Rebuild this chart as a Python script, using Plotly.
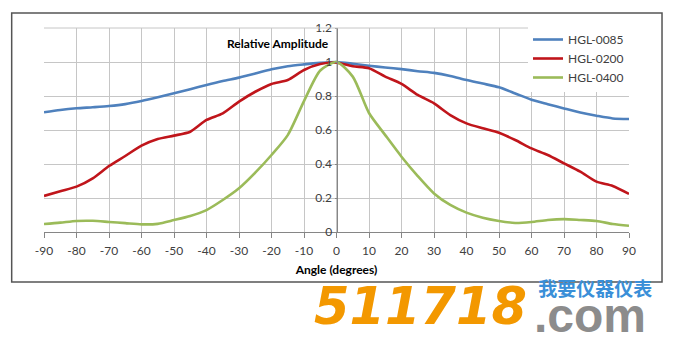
import plotly.graph_objects as go

angles = list(range(-90, 91, 5))
hgl_0085 = [0.704, 0.718, 0.728, 0.734, 0.741, 0.752, 0.770, 0.792, 0.816, 0.840, 0.865, 0.888,
            0.908, 0.932, 0.957, 0.975, 0.986, 0.995, 1.000, 0.990, 0.978, 0.968, 0.958, 0.946,
            0.936, 0.918, 0.894, 0.873, 0.851, 0.815, 0.778, 0.752, 0.727, 0.703, 0.684, 0.668, 0.665]
hgl_0200 = [0.212, 0.240, 0.267, 0.316, 0.388, 0.447, 0.508, 0.547, 0.567, 0.590, 0.659, 0.698,
            0.767, 0.825, 0.871, 0.894, 0.953, 0.988, 0.996, 0.975, 0.963, 0.914, 0.871, 0.806,
            0.757, 0.688, 0.639, 0.610, 0.584, 0.541, 0.492, 0.453, 0.404, 0.355, 0.296, 0.271, 0.224]
hgl_0400 = [0.047, 0.055, 0.065, 0.066, 0.059, 0.052, 0.045, 0.048, 0.070, 0.094, 0.129, 0.188,
            0.257, 0.349, 0.453, 0.570, 0.770, 0.950, 1.000, 0.914, 0.700, 0.570, 0.443, 0.329,
            0.227, 0.159, 0.114, 0.084, 0.065, 0.053, 0.059, 0.071, 0.076, 0.071, 0.065, 0.047, 0.037]
series_names = ["HGL-0085", "HGL-0200", "HGL-0400"]
series_colors = ["#4F81BD", "#C0151B", "#9BBB59"]
x_ticks = list(range(-90, 91, 10))
y_ticks = [0, 0.2, 0.4, 0.6, 0.8, 1, 1.2]
y_ticklabels = ["0", "0.2", "0.4", "0.6", "0.8", "1", "1.2"]

FONT = "Lato, 'Open Sans', sans-serif"

fig = go.Figure()
for name, vals, col in zip(series_names, [hgl_0085, hgl_0200, hgl_0400], series_colors):
    fig.add_trace(go.Scatter(x=angles, y=vals, name=name, mode="lines",
                             line=dict(color=col, width=2.6, shape="spline", smoothing=0.7)))

# plot area in px: x 44.3..629, y 28..232
L, R, T, B = 44.3, 629.0, 28.0, 232.0
W, H = R - L, B - T
def px(xp):
    return (xp - L) / W
def py(yp):
    return (B - yp) / H

fig.update_layout(
    width=682, height=354,
    margin=dict(l=L, r=682 - R, t=T, b=354 - B),
    paper_bgcolor="white", plot_bgcolor="white",
    font=dict(family=FONT, size=12, color="#404040"),
    showlegend=True,
    legend=dict(x=1, y=py(25), xanchor="right", yanchor="top", bgcolor="white",
                font=dict(size=12, color="#404040"), itemwidth=30,
                tracegroupgap=0, borderwidth=0),
    xaxis=dict(range=[-90, 90], tickvals=x_ticks, ticktext=[str(v) for v in x_ticks],
               showgrid=True, gridcolor="#C6C6C6", gridwidth=1,
               showline=True, linecolor="#868686", linewidth=1,
               ticks="outside", ticklen=5, tickcolor="#868686", ticklabelstandoff=3,
               zeroline=False, tickfont=dict(size=12, color="#404040"),
               title=dict(text="<b>Angle (degrees)</b>", font=dict(size=12, color="#000000"),
                          standoff=8)),
    yaxis=dict(range=[0, 1.2], tickvals=y_ticks, ticktext=y_ticklabels,
               anchor="free", position=0.5, side="left",
               showgrid=True, gridcolor="#C6C6C6", gridwidth=1,
               showline=True, linecolor="#868686", linewidth=1,
               ticks="outside", ticklen=2, tickcolor="#868686",
               zeroline=False, tickfont=dict(size=12, color="#404040")),
)

# top border of plot area as gridline
fig.add_shape(type="line", xref="paper", yref="paper", x0=0, x1=1, y0=1, y1=1,
              line=dict(color="#C6C6C6", width=1))

fig.add_annotation(x=0, y=1.106, xref="x", yref="y", xanchor="right", yanchor="middle",
                   xshift=-6, showarrow=False,
                   text="<b>Relative Amplitude</b>", font=dict(size=12, color="#000000"))

# chart outer border
fig.add_shape(type="rect", xref="paper", yref="paper",
              x0=px(12), x1=px(662), y0=py(282), y1=py(13),
              line=dict(color="#555555", width=1.5), layer="below")

# watermark
fig.add_annotation(xref="paper", yref="paper", x=px(312), y=py(306), xanchor="left", yanchor="middle",
                   showarrow=False, text="<b><i>511718</i></b>",
                   font=dict(family="DejaVu Sans", size=51, color="#F39800"))
fig.add_annotation(xref="paper", yref="paper", x=px(532), y=py(308), xanchor="left", yanchor="middle",
                   showarrow=False, align="left",
                   text=("<span style='font-size:19px;color:#3A8FD8;font-family:\"Noto Sans CJK SC\"'>"
                         "<b>\u00a0我要仪器仪表</b></span><br>"
                         "<span style='font-size:48px;color:#8C8C8C;font-family:\"Liberation Sans\"'>"
                         "<b>.com</b></span>"),
                   font=dict(family="Liberation Sans", size=28, color="#8C8C8C"))

fig.write_html("out.html")
